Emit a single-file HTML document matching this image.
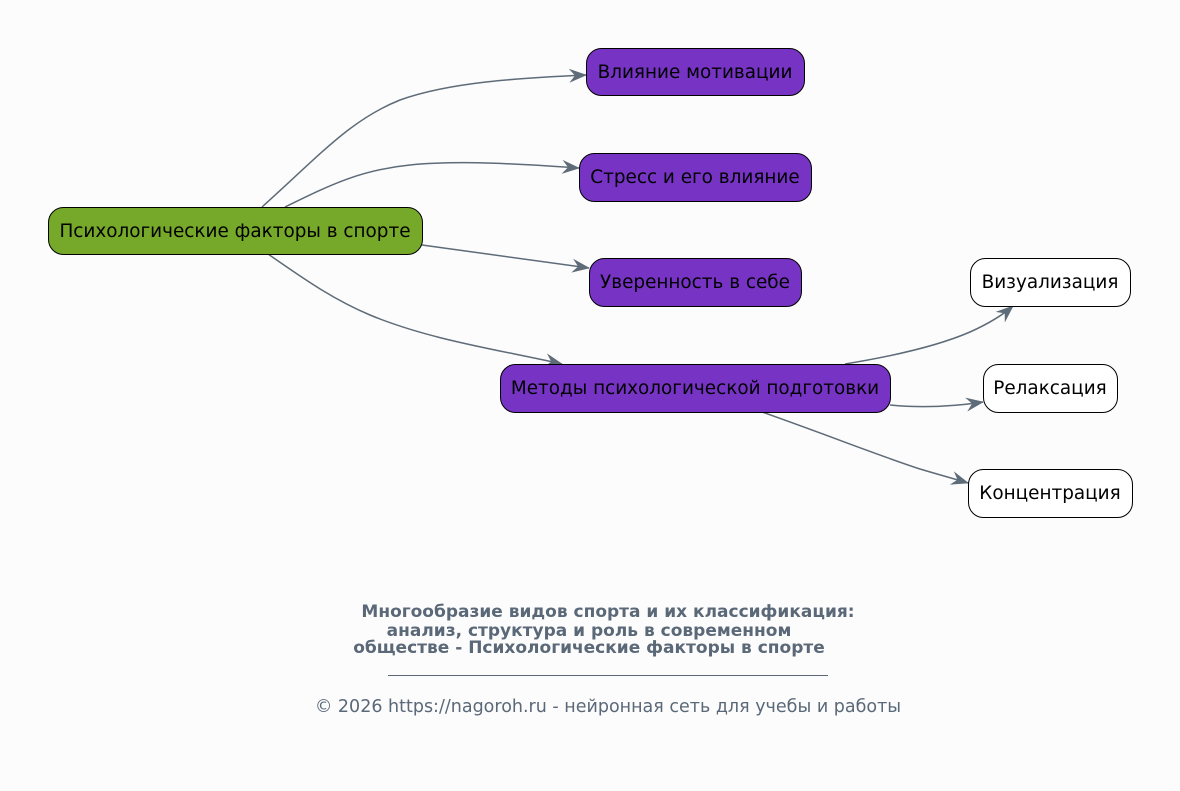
<!DOCTYPE html>
<html><head><meta charset="utf-8"><style>
html,body{margin:0;padding:0;background:#fcfcfc;}
svg{display:block;font-family:"DejaVu Sans","Liberation Sans",sans-serif;}
</style></head><body>
<svg width="1180" height="791" viewBox="0 0 1180 791" xmlns="http://www.w3.org/2000/svg">
<defs>
<marker id="a" viewBox="0 0 18 14" refX="17" refY="7" markerWidth="18" markerHeight="14" markerUnits="userSpaceOnUse" orient="auto">
<path d="M0,0 L18,7 L0,14 L6,7 z" fill="#5e6b78"/>
</marker>
</defs>
<rect width="1180" height="791" fill="#fcfcfc"/>
<g fill="none" stroke="#5e6b78" stroke-width="1.5" marker-end="url(#a)">
<path d="M262,207 C320,155 350,120 400,100 C450,82 520,78 586,75"/>
<path d="M285,207 C330,185 360,170 410,165 C460,160 520,164 579,168"/>
<path d="M422,245 L589,268"/>
<path d="M268,254 C300,276 330,298 370,315 C430,340 500,350 562,364"/>
<path d="M845,364 C900,355 940,345 970,332 C990,323 1005,313 1013,306"/>
<path d="M890,405 C920,408 950,407 983,402"/>
<path d="M762,412 C830,436 880,456 920,469 C940,475 955,479 968,483"/>
</g>
<g stroke="#000" stroke-width="1">
<rect x="48.5" y="207.5" width="374" height="47" rx="15" fill="#76a82a"/>
<rect x="586.5" y="48.5" width="218" height="47" rx="15" fill="#7633c4"/>
<rect x="579.5" y="153.5" width="232" height="48" rx="15" fill="#7633c4"/>
<rect x="589.5" y="258.5" width="212" height="48" rx="15" fill="#7633c4"/>
<rect x="500.5" y="364.5" width="390" height="48" rx="15" fill="#7633c4"/>
<rect x="970.5" y="258.5" width="160" height="48" rx="15" fill="#fff"/>
<rect x="983.5" y="364.5" width="134" height="48" rx="15" fill="#fff"/>
<rect x="968.5" y="469.5" width="164" height="48" rx="15" fill="#fff"/>
</g>
<g font-size="18.4" fill="#000" text-anchor="middle">
<text x="235" y="237">Психологические факторы в спорте</text>
<text x="695" y="78">Влияние мотивации</text>
<text x="695" y="183">Стресс и его влияние</text>
<text x="695" y="288">Уверенность в себе</text>
<text x="695" y="394">Методы психологической подготовки</text>
<text x="1050" y="288">Визуализация</text>
<text x="1050" y="394">Релаксация</text>
<text x="1050" y="499">Концентрация</text>
</g>
<g font-size="17" font-weight="bold" fill="#5a6878" text-anchor="middle">
<text x="608" y="617">Многообразие видов спорта и их классификация:</text>
<text x="589" y="636">анализ, структура и роль в современном</text>
<text x="589" y="653">обществе - Психологические факторы в спорте</text>
</g>
<line x1="388" y1="675.5" x2="828" y2="675.5" stroke="#5a6878" stroke-width="1"/>
<text x="608" y="712" font-size="17.5" fill="#5a6878" text-anchor="middle">© 2026 https://nagoroh.ru - нейронная сеть для учебы и работы</text>
</svg>
</body></html>
